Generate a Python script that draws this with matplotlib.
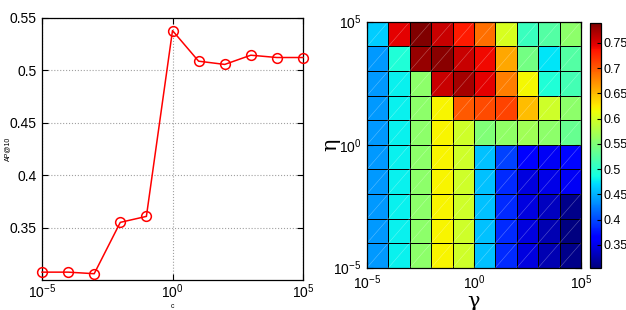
import numpy as np
import matplotlib
matplotlib.use("Agg")
import matplotlib.pyplot as plt
from matplotlib.ticker import FixedLocator, FuncFormatter, NullLocator

main_font = 'Liberation Sans'
plt.rcParams['font.family'] = [main_font, 'DejaVu Sans']
plt.rcParams['mathtext.fontset'] = 'custom'
plt.rcParams['mathtext.rm'] = main_font
plt.rcParams['mathtext.it'] = main_font
plt.rcParams['mathtext.bf'] = main_font

# ---- data ----
c_values = [1e-5, 1e-4, 1e-3, 1e-2, 1e-1, 1e0, 1e1, 1e2, 1e3, 1e4, 1e5]
ap10 = [0.3075, 0.3075, 0.306, 0.355, 0.3607, 0.538, 0.5088, 0.5057, 0.5145, 0.5123, 0.5123]

gamma_edges = [1e-5, 1e-4, 1e-3, 1e-2, 1e-1, 1e0, 1e1, 1e2, 1e3, 1e4, 1e5]
eta_edges = [1e-5, 1e-4, 1e-3, 1e-2, 1e-1, 1e0, 1e1, 1e2, 1e3, 1e4, 1e5]

# rows from bottom (eta=1e-5) to top (eta=1e5)
row1 = [0.438, 0.480, 0.557, 0.620, 0.596, 0.457, 0.386, 0.345, 0.327, 0.310]
row2 = [0.438, 0.480, 0.557, 0.620, 0.596, 0.457, 0.386, 0.345, 0.327, 0.305]
row3 = [0.438, 0.480, 0.557, 0.620, 0.596, 0.457, 0.386, 0.345, 0.332, 0.310]
row4 = [0.438, 0.480, 0.557, 0.620, 0.596, 0.457, 0.386, 0.345, 0.349, 0.355]
row5 = [0.438, 0.480, 0.557, 0.620, 0.596, 0.457, 0.396, 0.363, 0.355, 0.368]
row6 = [0.438, 0.480, 0.557, 0.620, 0.596, 0.550, 0.560, 0.570, 0.557, 0.535]
row7 = [0.438, 0.480, 0.557, 0.620, 0.700, 0.708, 0.712, 0.649, 0.596, 0.557]
row8 = [0.438, 0.480, 0.557, 0.758, 0.774, 0.747, 0.681, 0.618, 0.494, 0.514]
row9 = [0.438, 0.494, 0.779, 0.785, 0.758, 0.741, 0.661, 0.543, 0.475, 0.523]
row10 = [0.463, 0.747, 0.790, 0.758, 0.733, 0.688, 0.602, 0.508, 0.523, 0.557]

grid = np.array([row1, row2, row3, row4, row5, row6, row7, row8, row9, row10])

cbar_ticks = [0.35, 0.4, 0.45, 0.5, 0.55, 0.6, 0.65, 0.7, 0.75]
ap_ticks = [0.35, 0.4, 0.45, 0.5, 0.55]
log_ticks = [1e-5, 1e0, 1e5]

W, H = 626, 310
fig = plt.figure(figsize=(W / 100, H / 100), dpi=100)

def rect(x0, y0, x1, y1):
    return [x0 / W, 1 - y1 / H, (x1 - x0) / W, (y1 - y0) / H]

def logfmt(v, pos):
    e = int(round(np.log10(v)))
    return r'$10^{%d}$' % e

gfmt = FuncFormatter(lambda v, p: '%g' % v)
LS = 9

# ---- left panel ----
ax1 = fig.add_axes(rect(42, 18, 303, 280))
ax1.plot(c_values, ap10, '-', color='red', lw=1.1, marker='o', ms=7,
         mfc='none', mec='red', mew=1.1, clip_on=False, zorder=3)
ax1.set_xscale('log')
ax1.set_xlim(1e-5, 1e5)
ax1.set_ylim(0.30, 0.55)
ax1.xaxis.set_major_locator(FixedLocator(log_ticks))
ax1.xaxis.set_major_formatter(FuncFormatter(logfmt))
ax1.xaxis.set_minor_locator(NullLocator())
ax1.yaxis.set_major_locator(FixedLocator(ap_ticks))
ax1.yaxis.set_major_formatter(gfmt)
ax1.grid(True, linestyle=':', color='#a0a0a0', lw=0.8)
ax1.tick_params(direction='in', labelsize=LS + 1, length=4, top=True, right=True, pad=4)
ax1.tick_params(axis='x', pad=2)
ax1.set_xlabel('c', fontsize=5)
ax1.set_ylabel('AP@10', fontsize=5)
ax1.xaxis.set_label_coords(0.5, -0.086)
ax1.yaxis.set_label_coords(-0.118, 0.5)
for s in ax1.spines.values():
    s.set_linewidth(0.9)

# ---- right panel ----
ax2 = fig.add_axes(rect(367, 21.7, 581, 267.7))
vmin, vmax = 0.305, 0.79
mesh = ax2.pcolormesh(gamma_edges, eta_edges, grid, cmap='jet', vmin=vmin, vmax=vmax,
                      edgecolors='black', linewidth=0.6)
# faint diagonal seams inside each cell
for i in range(len(eta_edges) - 1):
    for j in range(len(gamma_edges) - 1):
        ax2.plot([gamma_edges[j], gamma_edges[j + 1]], [eta_edges[i], eta_edges[i + 1]],
                 color='white', lw=0.4, alpha=0.35, zorder=2)
ax2.set_xscale('log')
ax2.set_yscale('log')
ax2.set_xlim(1e-5, 1e5)
ax2.set_ylim(1e-5, 1e5)
for axis in (ax2.xaxis, ax2.yaxis):
    axis.set_major_locator(FixedLocator(log_ticks))
    axis.set_major_formatter(FuncFormatter(logfmt))
    axis.set_minor_locator(NullLocator())
ax2.tick_params(direction='in', labelsize=LS + 1, length=4, top=True, right=True, pad=4)
ax2.set_xlabel('γ', fontsize=15, family='DejaVu Serif')
ax2.set_ylabel('η', fontsize=15, family='DejaVu Serif', rotation=90)
ax2.xaxis.set_label_coords(0.5, -0.10)
ax2.yaxis.set_label_coords(-0.125, 0.5)
for s in ax2.spines.values():
    s.set_linewidth(0.9)

# ---- colorbar ----
cax = fig.add_axes(rect(590, 22.7, 601, 267.7))
cb = fig.colorbar(mesh, cax=cax, ticks=cbar_ticks, format=gfmt)
cb.ax.tick_params(direction='in', labelsize=LS, length=3, pad=1.5)
cb.outline.set_linewidth(0.9)

fig.savefig('out.png', dpi=100)
